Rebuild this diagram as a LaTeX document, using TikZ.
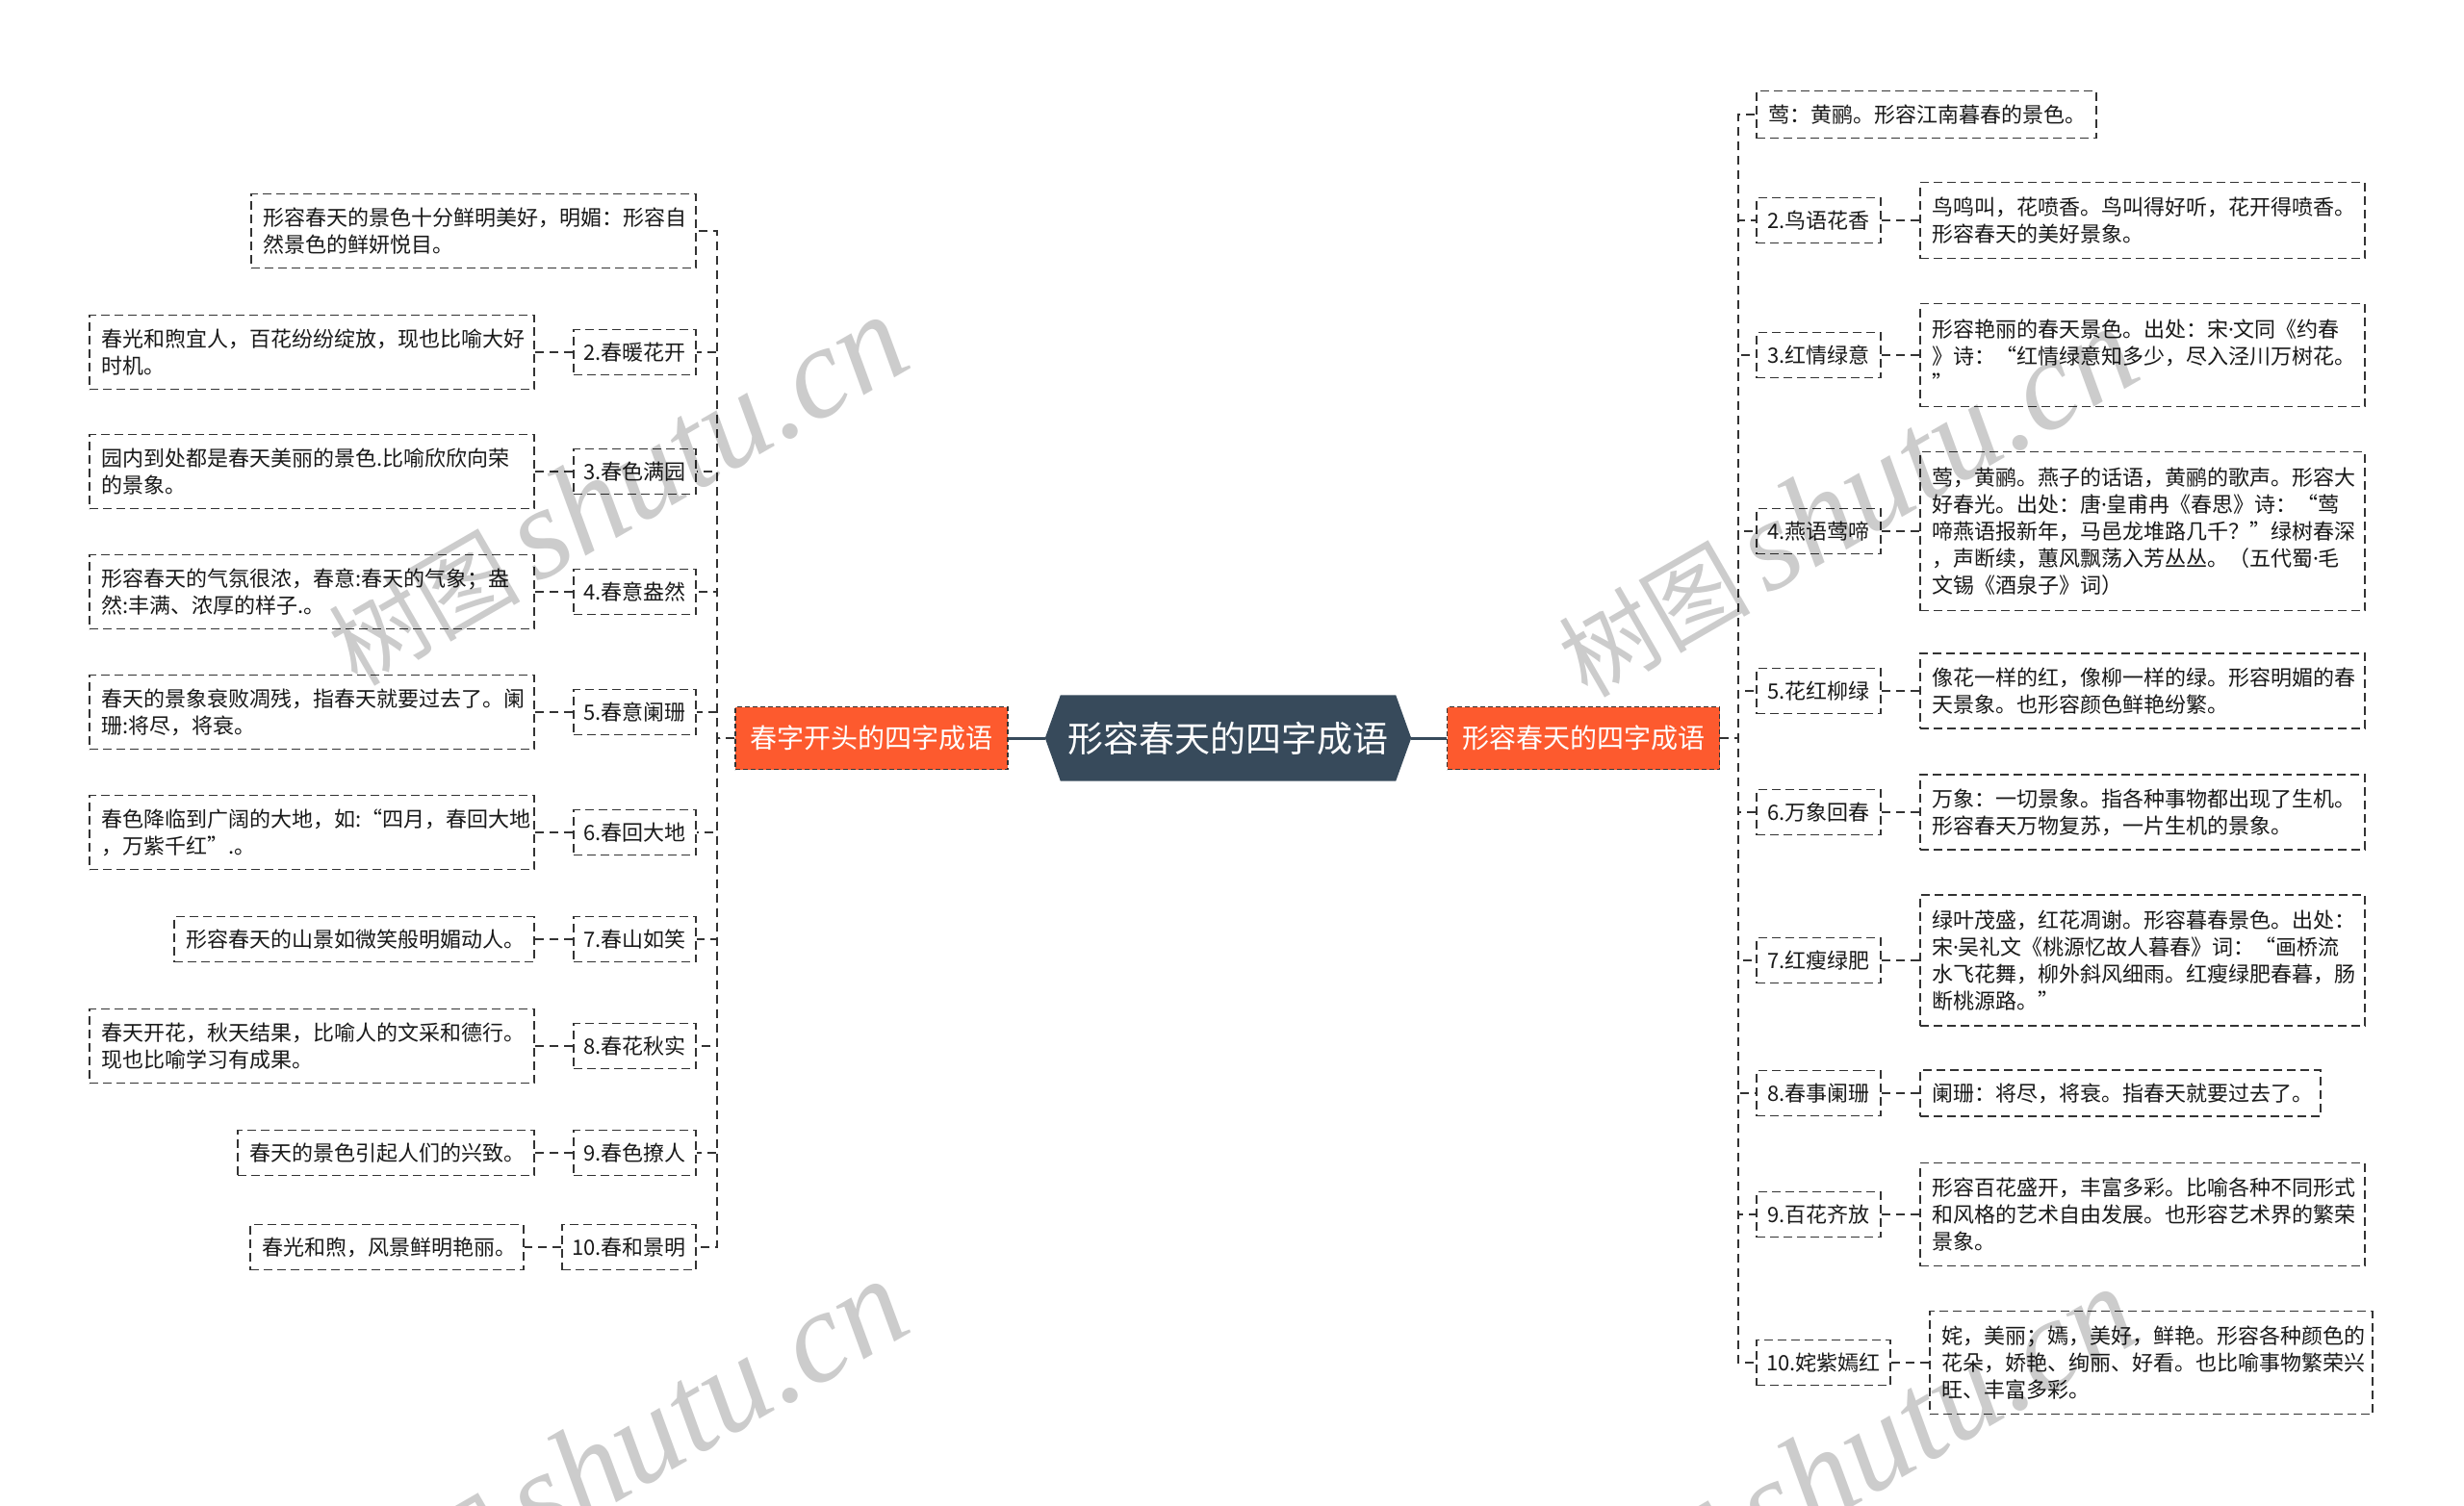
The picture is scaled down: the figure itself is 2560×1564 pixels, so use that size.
\documentclass[tikz,border=0pt]{standalone}
\usepackage{fontspec}
\setmainfont{Noto Sans CJK SC}
\newfontfamily\wmlatin{Liberation Serif}
\newfontfamily\latinf{Noto Sans}
\newcommand{\mdot}{{\latinf ·}}
\usetikzlibrary{backgrounds}
\definecolor{hubfill}{HTML}{374A5B}
\definecolor{orangefill}{HTML}{FD5A2E}
\definecolor{linec}{HTML}{333333}
\tikzset{
  conn/.style={draw=linec, line width=1.8pt, dash pattern=on 9pt off 6pt},
  hubline/.style={draw=hubfill, line width=3pt},
  descbox/.style={draw=linec, line width=1.8pt, dash pattern=on 9pt off 5pt, rectangle,
    align=left, inner xsep=12pt, inner ysep=0pt, text=black!90,
    font=\fontsize{22}{28}\selectfont},
  labelbox/.style={draw=linec, line width=1.8pt, dash pattern=on 9pt off 5pt, rectangle,
    align=center, inner xsep=4pt, inner ysep=0pt, minimum height=47pt, text=black!90,
    font=\fontsize{22}{28}\selectfont},
  mainbox/.style={fill=orangefill, draw=linec, line width=1.4pt, dash pattern=on 5pt off 3pt,
    rectangle, minimum width=283pt, minimum height=65pt, text=white,
    font=\fontsize{28}{30}\selectfont},
  hubbox/.style={rectangle, minimum width=348pt, minimum height=89pt, text=white,
    font=\fontsize{37}{40}\selectfont, inner sep=0pt},
  wm/.style={text=black, text opacity=0.2, rotate=30, inner sep=0pt}
}
\begin{document}
\begin{tikzpicture}[x=1pt,y=-1pt]
\useasboundingbox (0,0) rectangle (2560,1564);

% centre
\node[hubbox] (C) at (1276,767) {形容春天的四字成语};
\begin{scope}[on background layer]
\fill[white] (0,0) rectangle (2560,1564);
\fill[hubfill] (C.north west) -- (C.north east) -- ([xshift=16pt]C.east) -- (C.south east)
  -- (C.south west) -- ([xshift=-16pt]C.west) -- cycle;
\end{scope}
\node[mainbox] (LH) at (905.5,767) {春字开头的四字成语};
\node[mainbox] (RH) at (1645,767) {形容春天的四字成语};
\draw[hubline] (LH.east) -- ([xshift=-16pt]C.west);
\draw[hubline] (RH.west) -- ([xshift=16pt]C.east);

\coordinate (tl) at (745,767);
\coordinate (tr) at (1806,767);

% left branch
\node[descbox, text width=438pt, minimum height=77pt] (L1) at (492,240) {形容春天的景色十分鲜明美好，明媚：形容自\\然景色的鲜妍悦目。};

\node[labelbox, minimum width=127pt] (l2) at (659.5,366) {2.春暖花开};
\node[descbox, text width=438pt, minimum height=77pt] (d2) at (324,366) {春光和煦宜人，百花纷纷绽放，现也比喻大好\\时机。};
\node[labelbox, minimum width=127pt] (l3) at (659.5,490) {3.春色满园};
\node[descbox, text width=438pt, minimum height=77pt] (d3) at (324,490) {园内到处都是春天美丽的景色.比喻欣欣向荣\\的景象。};
\node[labelbox, minimum width=127pt] (l4) at (659.5,615) {4.春意盎然};
\node[descbox, text width=438pt, minimum height=77pt] (d4) at (324,615) {形容春天的气氛很浓，春意:春天的气象；盎\\然:丰满、浓厚的样子.。};
\node[labelbox, minimum width=127pt] (l5) at (659.5,740) {5.春意阑珊};
\node[descbox, text width=438pt, minimum height=77pt] (d5) at (324,740) {春天的景象衰败凋残，指春天就要过去了。阑\\珊:将尽，将衰。};
\node[labelbox, minimum width=127pt] (l6) at (659.5,865) {6.春回大地};
\node[descbox, text width=438pt, minimum height=77pt] (d6) at (324,865) {春色降临到广阔的大地，如:“四月，春回大地\\，万紫千红”.。};
\node[labelbox, minimum width=127pt] (l7) at (659.5,976) {7.春山如笑};
\node[descbox, text width=350pt, minimum height=47pt] (d7) at (368,976) {形容春天的山景如微笑般明媚动人。};
\node[labelbox, minimum width=127pt] (l8) at (659.5,1087) {8.春花秋实};
\node[descbox, text width=438pt, minimum height=77pt] (d8) at (324,1087) {春天开花，秋天结果，比喻人的文采和德行。\\现也比喻学习有成果。};
\node[labelbox, minimum width=127pt] (l9) at (659.5,1198) {9.春色撩人};
\node[descbox, text width=284pt, minimum height=47pt] (d9) at (401,1198) {春天的景色引起人们的兴致。};
\node[labelbox, minimum width=139pt] (l10) at (653.5,1296) {10.春和景明};
\node[descbox, text width=260pt, minimum height=47pt] (d10) at (402,1296) {春光和煦，风景鲜明艳丽。};

\foreach \n in {L1,l2,l3,l4,l5,l6,l7,l8,l9,l10}
  \draw[conn] (LH.west) -- (LH.west -| tl) |- (\n.east);
\foreach \i in {2,...,10}
  \draw[conn] (l\i.west) -- (d\i.east);

% right branch
\node[descbox, text width=329pt, minimum height=49pt] (R1) at (2001.5,119) {莺：黄鹂。形容江南暮春的景色。};

\node[labelbox, minimum width=129pt] (r2) at (1889.5,229) {2.鸟语花香};
\node[descbox, text width=438pt, minimum height=79pt] (e2) at (2226,229) {鸟鸣叫，花喷香。鸟叫得好听，花开得喷香。\\形容春天的美好景象。};
\node[labelbox, minimum width=129pt] (r3) at (1889.5,369) {3.红情绿意};
\node[descbox, text width=438pt, minimum height=107pt] (e3) at (2226,369) {形容艳丽的春天景色。出处：宋\mdot 文同《约春\\》诗：“红情绿意知多少，尽入泾川万树花。\\”};
\node[labelbox, minimum width=129pt] (r4) at (1889.5,552) {4.燕语莺啼};
\node[descbox, text width=438pt, minimum height=165pt] (e4) at (2226,552) {莺，黄鹂。燕子的话语，黄鹂的歌声。形容大\\好春光。出处：唐\mdot 皇甫冉《春思》诗：“莺\\啼燕语报新年，马邑龙堆路几千？”绿树春深\\，声断续，蕙风飘荡入芳丛丛。（五代蜀\mdot 毛\\文锡《酒泉子》词）};
\node[labelbox, minimum width=129pt] (r5) at (1889.5,718) {5.花红柳绿};
\node[descbox, text width=438pt, minimum height=78pt] (e5) at (2226,718) {像花一样的红，像柳一样的绿。形容明媚的春\\天景象。也形容颜色鲜艳纷繁。};
\node[labelbox, minimum width=129pt] (r6) at (1889.5,844) {6.万象回春};
\node[descbox, text width=438pt, minimum height=78pt] (e6) at (2226,844) {万象：一切景象。指各种事物都出现了生机。\\形容春天万物复苏，一片生机的景象。};
\node[labelbox, minimum width=129pt] (r7) at (1889.5,998) {7.红瘦绿肥};
\node[descbox, text width=438pt, minimum height=136pt] (e7) at (2226,998) {绿叶茂盛，红花凋谢。形容暮春景色。出处：\\宋\mdot 吴礼文《桃源忆故人暮春》词：“画桥流\\水飞花舞，柳外斜风细雨。红瘦绿肥春暮，肠\\断桃源路。”};
\node[labelbox, minimum width=129pt] (r8) at (1889.5,1136) {8.春事阑珊};
\node[descbox, text width=392pt, minimum height=48pt] (e8) at (2203,1136) {阑珊：将尽，将衰。指春天就要过去了。};
\node[labelbox, minimum width=129pt] (r9) at (1889.5,1262) {9.百花齐放};
\node[descbox, text width=438pt, minimum height=107pt] (e9) at (2226,1262) {形容百花盛开，丰富多彩。比喻各种不同形式\\和风格的艺术自由发展。也形容艺术界的繁荣\\景象。};
\node[labelbox, minimum width=139pt] (r10) at (1894.5,1416) {10.姹紫嫣红};
\node[descbox, text width=436pt, minimum height=107pt] (e10) at (2235,1416) {姹，美丽；嫣，美好，鲜艳。形容各种颜色的\\花朵，娇艳、绚丽、好看。也比喻事物繁荣兴\\旺、丰富多彩。};

\foreach \n in {R1,r2,r3,r4,r5,r6,r7,r8,r9,r10}
  \draw[conn] (RH.east) -- (RH.east -| tr) |- (\n.west);
\foreach \i in {2,...,10}
  \draw[conn] (r\i.east) -- (e\i.west);

% watermarks
\node[wm] (w1) at (640,510) {\fontsize{100}{100}\selectfont 树图\,{\wmlatin\itshape\fontsize{135}{135}\selectfont shutu.cn}};
\node[wm] (w2) at (1918,522) {\fontsize{100}{100}\selectfont 树图\,{\wmlatin\itshape\fontsize{135}{135}\selectfont shutu.cn}};
\node[wm] (w3) at (640,1512) {\fontsize{100}{100}\selectfont 树图\,{\wmlatin\itshape\fontsize{135}{135}\selectfont shutu.cn}};
\node[wm] (w4) at (1918,1520) {\fontsize{100}{100}\selectfont 树图\,{\wmlatin\itshape\fontsize{135}{135}\selectfont shutu.cn}};
\end{tikzpicture}
\end{document}
